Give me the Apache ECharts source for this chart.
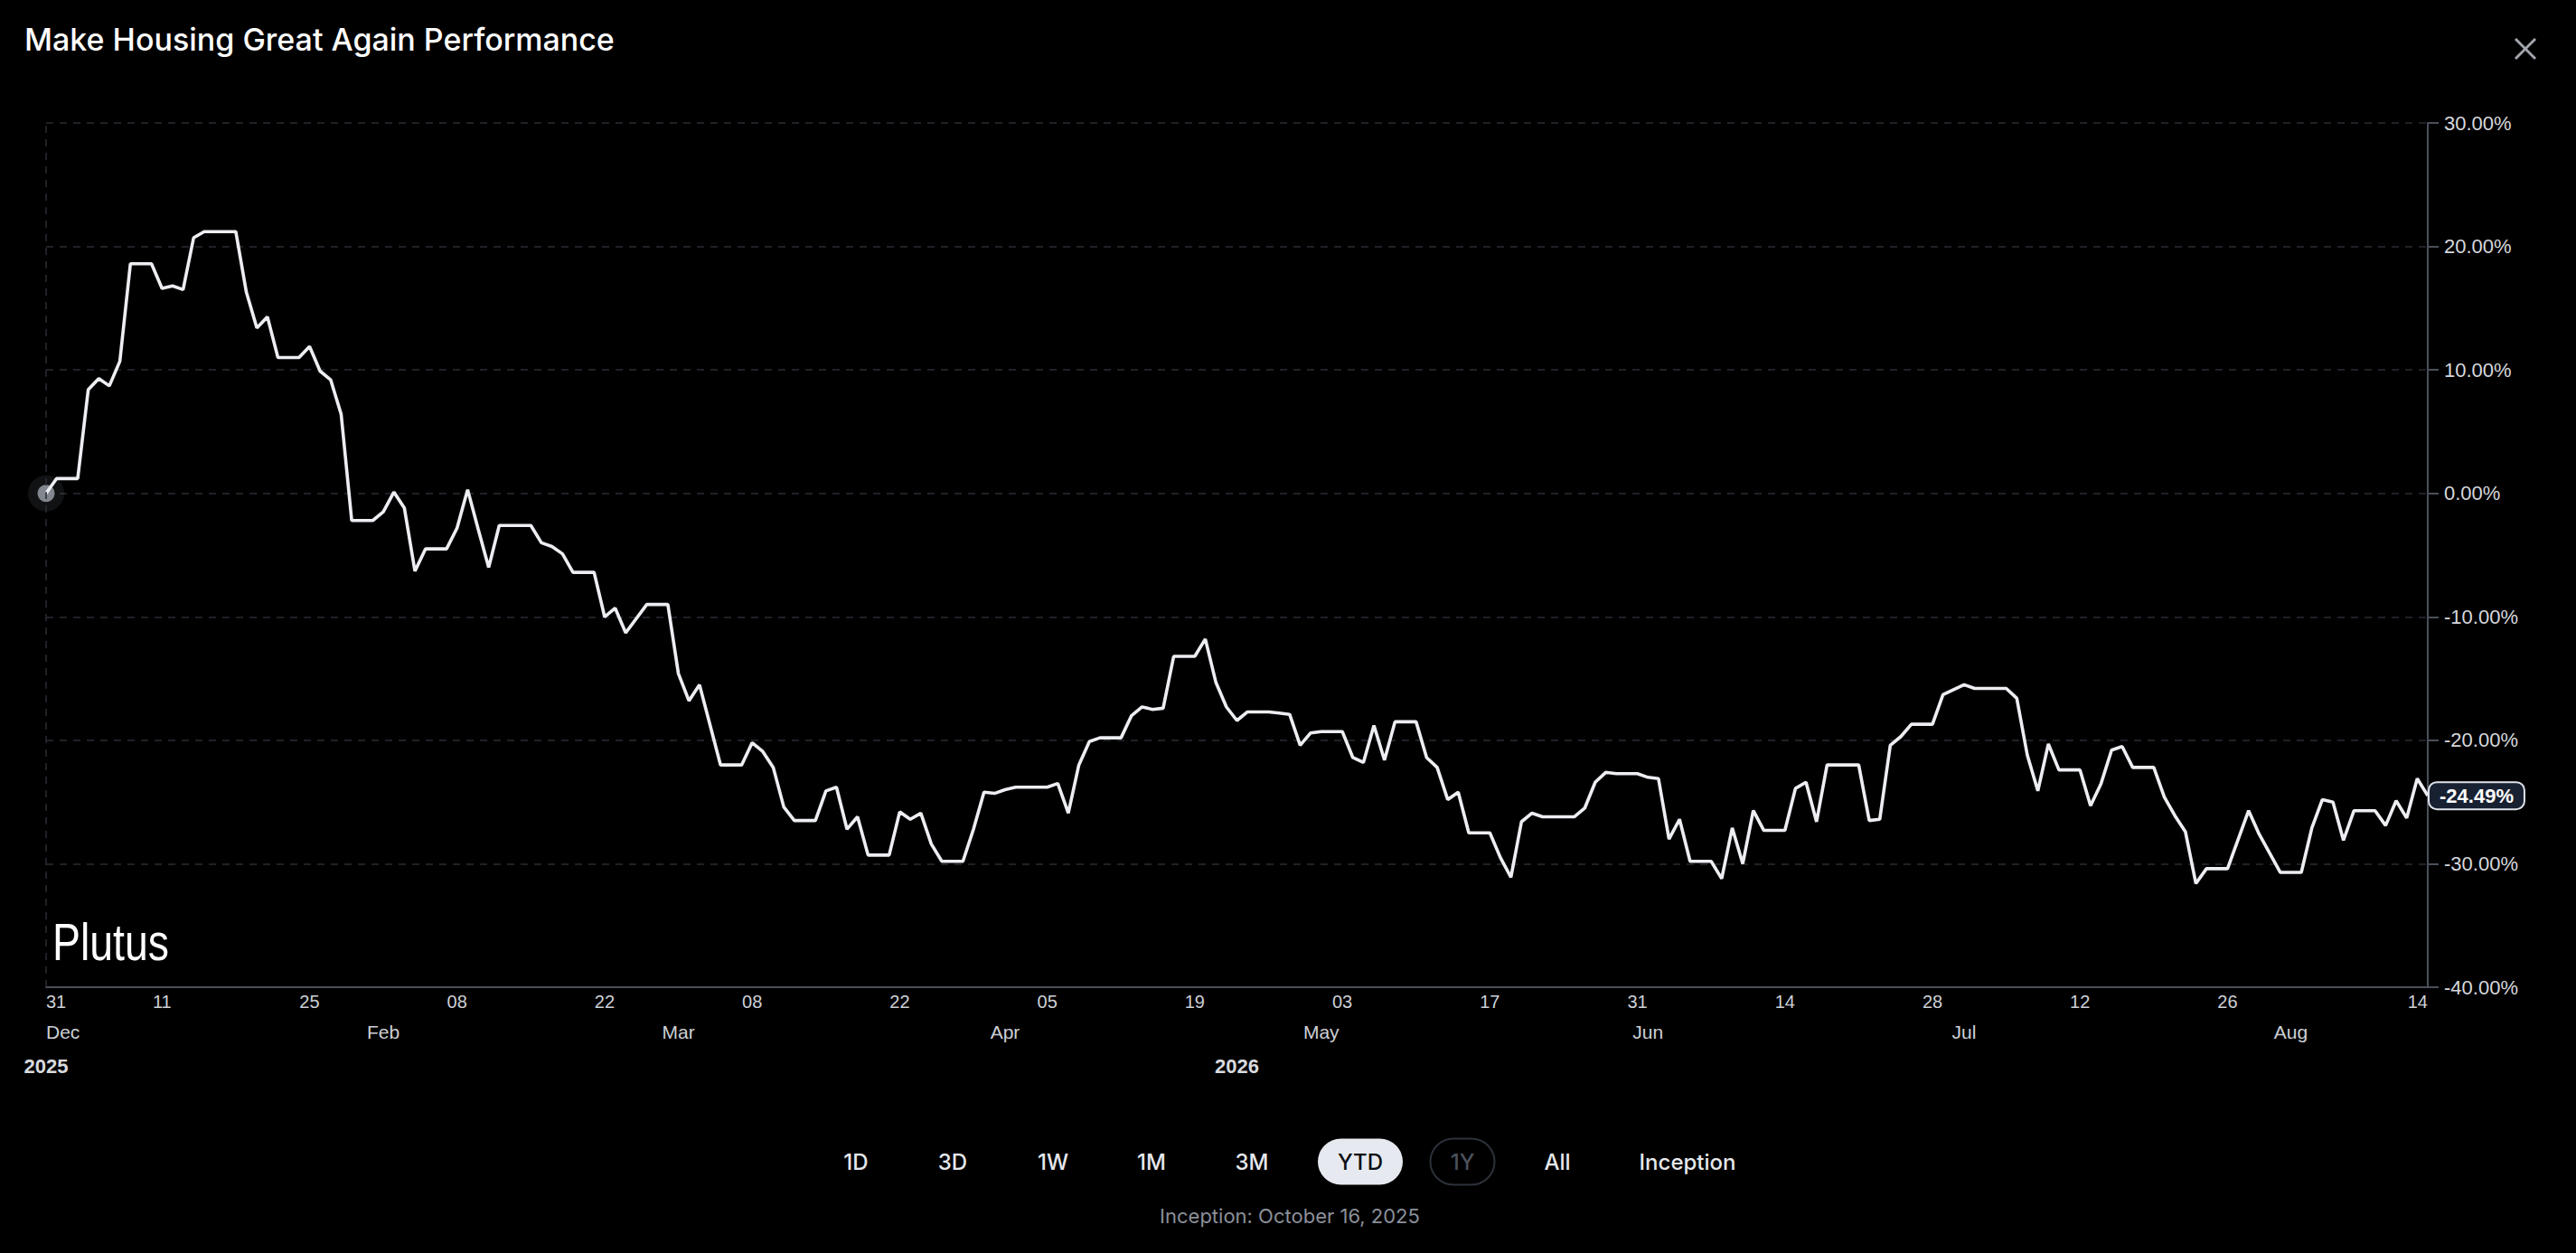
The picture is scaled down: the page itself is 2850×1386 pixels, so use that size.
<!DOCTYPE html>
<html>
<head>
<meta charset="utf-8">
<style>
  html, body { margin: 0; padding: 0; background: #000; }
  #chart { width: 2850px; height: 1386px; }
</style>
<script src="https://cdn.jsdelivr.net/npm/echarts@6.0.0/dist/echarts.min.js"></script>
</head>
<body>
<div id="chart"></div>
<script>
// ---------- data ----------
const dates = [
  '2025-12-31','2026-01-01','2026-01-03','2026-01-04','2026-01-05','2026-01-06','2026-01-07','2026-01-08',
  '2026-01-10','2026-01-11','2026-01-12','2026-01-13','2026-01-14','2026-01-15','2026-01-18','2026-01-19',
  '2026-01-20','2026-01-21','2026-01-22','2026-01-24','2026-01-25','2026-01-26','2026-01-27','2026-01-28',
  '2026-01-29','2026-01-31','2026-02-01','2026-02-02','2026-02-03','2026-02-04','2026-02-05','2026-02-07',
  '2026-02-08','2026-02-09','2026-02-10','2026-02-11','2026-02-12','2026-02-15','2026-02-16','2026-02-17',
  '2026-02-18','2026-02-19','2026-02-21','2026-02-22','2026-02-23','2026-02-24','2026-02-26','2026-02-28',
  '2026-03-01','2026-03-02','2026-03-03','2026-03-05','2026-03-07','2026-03-08','2026-03-09','2026-03-10',
  '2026-03-11','2026-03-12','2026-03-14','2026-03-15','2026-03-16','2026-03-17','2026-03-18','2026-03-19',
  '2026-03-21','2026-03-22','2026-03-23','2026-03-24','2026-03-25','2026-03-26','2026-03-28','2026-03-29',
  '2026-03-30','2026-03-31','2026-04-01','2026-04-02','2026-04-05','2026-04-06','2026-04-07','2026-04-08',
  '2026-04-09','2026-04-10','2026-04-12','2026-04-13','2026-04-14','2026-04-15','2026-04-16','2026-04-17',
  '2026-04-19','2026-04-20','2026-04-21','2026-04-22','2026-04-23','2026-04-24','2026-04-26','2026-04-27',
  '2026-04-28','2026-04-29','2026-04-30','2026-05-01','2026-05-03','2026-05-04','2026-05-05','2026-05-06',
  '2026-05-07','2026-05-08','2026-05-10','2026-05-11','2026-05-12','2026-05-13','2026-05-14','2026-05-15',
  '2026-05-17','2026-05-18','2026-05-19','2026-05-20','2026-05-21','2026-05-22','2026-05-25','2026-05-26',
  '2026-05-27','2026-05-28','2026-05-29','2026-05-31','2026-06-01','2026-06-02','2026-06-03','2026-06-04',
  '2026-06-05','2026-06-07','2026-06-08','2026-06-09','2026-06-10','2026-06-11','2026-06-12','2026-06-14',
  '2026-06-15','2026-06-16','2026-06-17','2026-06-18','2026-06-21','2026-06-22','2026-06-23','2026-06-24',
  '2026-06-25','2026-06-26','2026-06-28','2026-06-29','2026-06-30','2026-07-01','2026-07-02','2026-07-05',
  '2026-07-06','2026-07-07','2026-07-08','2026-07-09','2026-07-10','2026-07-12','2026-07-13','2026-07-14',
  '2026-07-15','2026-07-16','2026-07-17','2026-07-19','2026-07-20','2026-07-21','2026-07-22','2026-07-23',
  '2026-07-24','2026-07-26','2026-07-28','2026-07-29','2026-07-31','2026-08-02','2026-08-03','2026-08-04',
  '2026-08-05','2026-08-06','2026-08-07','2026-08-09','2026-08-10','2026-08-11','2026-08-12','2026-08-13',
  '2026-08-14'
];
const returns = [
  0, 1.2, 1.2, 8.4, 9.3, 8.7, 10.7, 18.6,
  18.6, 16.6, 16.8, 16.5, 20.7, 21.2, 21.2, 16.3,
  13.4, 14.3, 11.0, 11.0, 11.9, 9.9, 9.2, 6.4,
  -2.2, -2.2, -1.5, 0.1, -1.2, -6.3, -4.5, -4.5,
  -2.8, 0.3, -2.9, -6.0, -2.6, -2.6, -4.0, -4.3,
  -4.9, -6.4, -6.4, -10.0, -9.3, -11.3, -9.0, -9.0,
  -14.6, -16.8, -15.5, -22.0, -22.0, -20.2, -20.9, -22.2,
  -25.4, -26.5, -26.5, -24.1, -23.8, -27.2, -26.2, -29.3,
  -29.3, -25.8, -26.4, -25.9, -28.4, -29.8, -29.8, -27.2,
  -24.2, -24.3, -24.0, -23.8, -23.8, -23.5, -25.9, -22.0,
  -20.1, -19.8, -19.8, -18.0, -17.3, -17.5, -17.4, -13.2,
  -13.2, -11.8, -15.3, -17.3, -18.4, -17.7, -17.7, -17.8,
  -17.9, -20.4, -19.4, -19.3, -19.3, -21.4, -21.8, -18.8,
  -21.6, -18.5, -18.5, -21.4, -22.2, -24.8, -24.2, -27.5,
  -27.5, -29.5, -31.1, -26.6, -25.9, -26.2, -26.2, -25.5,
  -23.4, -22.6, -22.7, -22.7, -23.0, -23.1, -28.0, -26.4,
  -29.8, -29.8, -31.2, -27.1, -30.0, -25.7, -27.3, -27.3,
  -23.9, -23.4, -26.6, -22.0, -22.0, -26.5, -26.4, -20.4,
  -19.7, -18.7, -18.7, -16.3, -15.9, -15.5, -15.8, -15.8,
  -16.6, -21.2, -24.1, -20.3, -22.4, -22.4, -25.3, -23.5,
  -20.8, -20.5, -22.2, -22.2, -24.6, -26.1, -27.4, -31.6,
  -30.4, -30.4, -25.7, -27.6, -30.7, -30.7, -27.1, -24.8,
  -25.0, -28.1, -25.7, -25.7, -26.9, -24.9, -26.3, -23.1,
  -24.49
];

// tick labels
const dayTickDates = ['2025-12-31','2026-01-11','2026-01-25','2026-02-08','2026-02-22','2026-03-08','2026-03-22',
  '2026-04-05','2026-04-19','2026-05-03','2026-05-17','2026-05-31','2026-06-14','2026-06-28','2026-07-12',
  '2026-07-26','2026-08-14'];
const dayTickLabels = ['31','11','25','08','22','08','22','05','19','03','17','31','14','28','12','26','14'];
const monthTickDates = ['2025-12-31','2026-02-01','2026-03-01','2026-04-01','2026-05-01','2026-06-01','2026-07-01','2026-08-01'];
const monthTickLabels = ['Dec','Feb','Mar','Apr','May','Jun','Jul','Aug'];
const yearTickDates = ['2025-12-31','2026-04-23'];
const yearTickLabels = ['2025','2026'];
const yMin = -40, yMax = 30, yStep = 10;

const rangeButtons = ['1D','3D','1W','1M','3M','YTD','1Y','All','Inception'];
const activeButton = 'YTD';
const disabledButton = '1Y';
const titleText = 'Make Housing Great Again Performance';
const inceptionText = 'Inception: October 16, 2025';
const watermarkText = 'Plutus';

// ---------- helpers: calendar day offset from the first date ----------
function dayNum(s) {
  const p = s.split('-').map(Number);
  return Date.UTC(p[0], p[1] - 1, p[2]) / 86400000;
}
const day0 = dayNum(dates[0]);
const toX = s => dayNum(s) - day0;
const dayTickX = dayTickDates.map(toX);
const monthTickX = monthTickDates.map(toX);
const yearTickX = yearTickDates.map(toX);
function labelAt(xs, labels) {
  return v => {
    let best = 0, bd = Infinity;
    xs.forEach((x, i) => { const d = Math.abs(x - v); if (d < bd) { bd = d; best = i; } });
    return labels[best];
  };
}

// ---------- chart ----------
const chart = echarts.init(document.getElementById('chart'), null, { renderer: 'svg' });

const seriesData = dates.map((d, i) => [toX(d), returns[i]]);
const xMax = toX(dates[dates.length - 1]);
const axisFont = 'Liberation Sans';
const uiFont = 'Inter';
const gridColor = '#2a2d34';
const axisColor = '#4a4f5a';

const buttonX = [947, 1054, 1165, 1274, 1385, 1505, 1618, 1723, 1867];
const btnY = 1285;
const graphics = [
  { type: 'text', x: 27, y: 43, style: { text: titleText, fill: '#ffffff', font: '500 34px ' + uiFont, align: 'left', verticalAlign: 'middle' } },
  { type: 'line', shape: { x1: 2783, y1: 43, x2: 2805, y2: 65 }, style: { stroke: '#a2a6ad', lineWidth: 3 } },
  { type: 'line', shape: { x1: 2805, y1: 43, x2: 2783, y2: 65 }, style: { stroke: '#a2a6ad', lineWidth: 3 } },
  { type: 'text', x: 58, y: 1042, scaleX: 0.8, scaleY: 1, style: { x: 0, y: 0, text: watermarkText, fill: '#ffffff', font: '58px ' + axisFont, align: 'left', verticalAlign: 'middle' } },
  { type: 'text', x: 1427, y: 1345, style: { text: inceptionText, fill: '#8a8f99', font: '22px ' + uiFont, align: 'center', verticalAlign: 'middle' } }
];
rangeButtons.forEach((b, i) => {
  const cx = buttonX[i];
  let fill = '#e6e8ec';
  if (b === activeButton) {
    graphics.push({ type: 'rect', shape: { x: cx - 47, y: btnY - 25.5, width: 94, height: 51, r: 25.5 }, style: { fill: '#e6e9ef' } });
    fill = '#0b0d12';
  } else if (b === disabledButton) {
    graphics.push({ type: 'rect', shape: { x: cx - 35.5, y: btnY - 25.5, width: 71, height: 51, r: 25.5 }, style: { fill: 'none', stroke: '#2c313b', lineWidth: 2 } });
    fill = '#4b515c';
  }
  graphics.push({ type: 'text', x: cx, y: btnY, style: { text: b, fill: fill, font: '500 24px ' + uiFont, align: 'center', verticalAlign: 'middle' } });
});

const baseX = {
  type: 'value',
  position: 'bottom',
  min: 0,
  max: xMax,
  axisTick: { show: false },
  splitLine: { show: false },
  minorTick: { show: false }
};

chart.setOption({
  backgroundColor: '#000000',
  animation: false,
  grid: { left: 51, right: 164, top: 136, bottom: 294, containLabel: false, outerBoundsMode: 'none' },
  xAxis: [
    Object.assign({}, baseX, {
      axisLine: { show: true, onZero: false, lineStyle: { color: axisColor, width: 2 } },
      axisLabel: {
        show: true, customValues: dayTickX, color: '#cdd0d6', fontSize: 20, fontFamily: axisFont, margin: 6,
        alignMinLabel: 'left', alignMaxLabel: 'right', hideOverlap: false,
        formatter: labelAt(dayTickX, dayTickLabels)
      }
    }),
    Object.assign({}, baseX, {
      offset: 33,
      axisLine: { show: false, onZero: false },
      axisLabel: {
        show: true, customValues: monthTickX, color: '#cdd0d6', fontSize: 21, fontFamily: axisFont, margin: 6,
        alignMinLabel: 'left', hideOverlap: false,
        formatter: labelAt(monthTickX, monthTickLabels)
      }
    }),
    Object.assign({}, baseX, {
      offset: 70,
      axisLine: { show: false, onZero: false },
      axisLabel: {
        show: true, customValues: yearTickX, color: '#d8dadf', fontSize: 22, fontWeight: 'bold', fontFamily: axisFont, margin: 6,
        alignMinLabel: 'center', alignMaxLabel: 'center', hideOverlap: false,
        formatter: labelAt(yearTickX, yearTickLabels)
      }
    })
  ],
  yAxis: {
    type: 'value',
    position: 'right',
    min: yMin, max: yMax, interval: yStep,
    axisLine: { show: true, onZero: false, lineStyle: { color: axisColor, width: 2 } },
    axisTick: { show: true, length: 12, lineStyle: { color: axisColor, width: 2 } },
    axisLabel: { color: '#d6d8dd', fontSize: 22, fontFamily: axisFont, margin: 18, formatter: v => v.toFixed(2) + '%' },
    splitLine: { show: true, lineStyle: { color: gridColor, width: 1.5, type: [8, 7] } }
  },
  series: [
    {
      type: 'scatter',
      xAxisIndex: 0,
      data: [seriesData[0]],
      symbolSize: 40,
      clip: false,
      z: 1,
      silent: true,
      itemStyle: { color: 'rgba(120,126,138,0.18)' }
    },
    {
      type: 'scatter',
      xAxisIndex: 0,
      data: [seriesData[0]],
      symbolSize: 19,
      clip: false,
      z: 2,
      silent: true,
      itemStyle: { color: '#9fa4ad' }
    },
    {
      type: 'line',
      xAxisIndex: 0,
      data: seriesData,
      symbol: 'none',
      z: 3,
      lineStyle: { color: '#eceef2', width: 3.6 },
      endLabel: {
        show: true,
        distance: 2,
        formatter: p => p.value[1].toFixed(2) + '%',
        color: '#ffffff', fontSize: 22, fontWeight: 'bold', fontFamily: axisFont,
        backgroundColor: '#172131', borderColor: '#dfe3ea', borderWidth: 2, borderRadius: 8,
        padding: [3, 11]
      },
      markLine: {
        silent: true,
        symbol: 'none',
        label: { show: false },
        lineStyle: { color: gridColor, width: 1.5, type: [8, 7] },
        data: [{ xAxis: 0 }]
      }
    }
  ],
  graphic: graphics
});
</script>
</body>
</html>
